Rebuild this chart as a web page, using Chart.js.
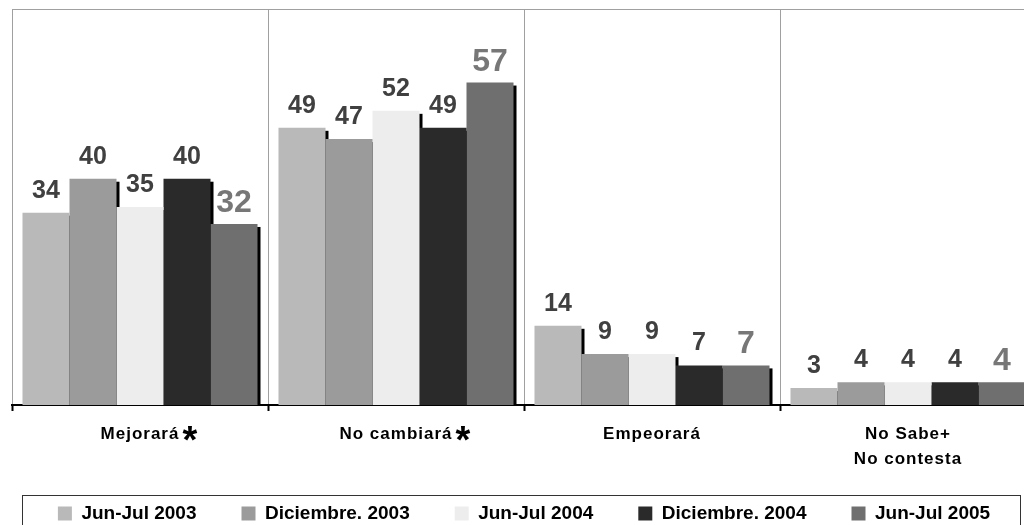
<!DOCTYPE HTML>
<html>
    <head>
        <meta charset="utf-8">
        <title>Expectativas</title>
        <script src="https://cdn.jsdelivr.net/npm/chart.js@4.4.1/dist/chart.umd.min.js"></script>
        <style>
            body { margin: 0; overflow: hidden; background: #ffffff; }
            #chart { display: block; }
        </style>
    </head>
    <body>
        <canvas id="chart" width="1040" height="525"></canvas>
        <script>
            const categories = ['Mejorará', 'No cambiará', 'Empeorará', ['No Sabe+', 'No contesta']];
            const categoryNotes = ['*', '*', '', ''];
            const seriesNames = ['Jun-Jul 2003', 'Diciembre. 2003', 'Jun-Jul 2004', 'Diciembre. 2004', 'Jun-Jul 2005'];
            const junJul2003 = [34, 49, 14, 3];
            const dic2003 = [40, 47, 9, 4];
            const junJul2004 = [35, 52, 9, 4];
            const dic2004 = [40, 49, 7, 4];
            const junJul2005 = [32, 57, 7, 4];
            const seriesColors = ['#b9b9b9', '#9b9b9b', '#ededed', '#2a2a2a', '#6f6f6f'];

            const fontFamily = "'Liberation Sans', Arial, sans-serif";
            const tickFont = { family: fontFamily, size: 17, weight: 'bold', lineHeight: 1.47 };
            const tickSpacing = '1px';

            // black drop shadow behind each bar, drawn before the bars
            const shadowPlugin = {
                id: 'barShadow',
                beforeDatasetsDraw(chart) {
                    const ctx = chart.ctx;
                    ctx.save();
                    ctx.fillStyle = '#000000';
                    chart.data.datasets.forEach((ds, i) => {
                        chart.getDatasetMeta(i).data.forEach(bar => {
                            const p = bar.getProps(['x', 'y', 'base', 'width'], true);
                            ctx.fillRect(p.x - p.width / 2 + 3, p.y + 3, p.width, p.base - p.y - 3);
                        });
                    });
                    ctx.restore();
                }
            };

            const valueLabelPlugin = {
                id: 'valueLabels',
                afterDatasetsDraw(chart) {
                    const ctx = chart.ctx;
                    const last = chart.data.datasets.length - 1;
                    ctx.save();
                    ctx.textAlign = 'center';
                    ctx.textBaseline = 'alphabetic';
                    chart.data.datasets.forEach((ds, i) => {
                        const big = i === last;
                        ctx.font = 'bold ' + (big ? 32 : 25) + 'px ' + fontFamily;
                        ctx.fillStyle = big ? '#777777' : '#404040';
                        chart.getDatasetMeta(i).data.forEach((bar, j) => {
                            ctx.fillText(String(ds.data[j]), bar.x, bar.y - (big ? 12 : 15));
                        });
                    });
                    ctx.restore();
                    // category labels (ticks.z = 1) are drawn right after this, a bit spaced out
                    ctx.letterSpacing = tickSpacing;
                }
            };

            const framePlugin = {
                id: 'frames',
                afterDraw(chart) {
                    const ctx = chart.ctx;
                    const area = chart.chartArea;
                    const xScale = chart.scales.x;

                    // big asterisks after the marked categories
                    ctx.save();
                    ctx.font = 'bold ' + tickFont.size + 'px ' + fontFamily;
                    const widths = categories.map(c => ctx.measureText(Array.isArray(c) ? c[0] : c).width);
                    ctx.letterSpacing = '0px';
                    ctx.font = 'bold 38px ' + fontFamily;
                    ctx.fillStyle = '#000000';
                    ctx.textAlign = 'left';
                    ctx.textBaseline = 'alphabetic';
                    categoryNotes.forEach((note, i) => {
                        if (note) {
                            ctx.fillText(note, xScale.getPixelForTick(i) + widths[i] / 2 + 3, 453);
                        }
                    });
                    ctx.restore();
                    ctx.letterSpacing = '0px';

                    ctx.save();
                    ctx.strokeStyle = '#a0a0a0';
                    ctx.lineWidth = 1;
                    ctx.beginPath();
                    ctx.moveTo(area.left, Math.round(area.top) + 0.5);
                    ctx.lineTo(area.right, Math.round(area.top) + 0.5);
                    ctx.stroke();

                    const legend = chart.legend;
                    const hb = legend.legendHitBoxes[0];
                    const top = Math.round(hb.top + hb.height / 2 - 19) + 0.5;
                    ctx.strokeStyle = '#333333';
                    ctx.strokeRect(legend.left + 10.5, top, legend.right - legend.left - 26, 60);
                    ctx.restore();
                }
            };

            const seriesData = [junJul2003, dic2003, junJul2004, dic2004, junJul2005];
            const datasets = seriesNames.map((name, i) => ({
                label: name,
                data: seriesData[i],
                backgroundColor: seriesColors[i],
                borderWidth: 0,
                barPercentage: 1,
                categoryPercentage: 0.918
            }));

            new Chart(document.getElementById('chart').getContext('2d'), {
                type: 'bar',
                data: { labels: categories, datasets: datasets },
                options: {
                    responsive: false,
                    animation: false,
                    layout: { padding: { left: 12, right: 4, top: 9, bottom: -8 } },
                    plugins: {
                        tooltip: { enabled: false },
                        legend: {
                            position: 'bottom',
                            labels: {
                                boxWidth: 14,
                                boxHeight: 14,
                                padding: 45,
                                color: '#000000',
                                font: { family: fontFamily, size: 19, weight: 'bold' }
                            }
                        }
                    },
                    scales: {
                        x: {
                            grid: {
                                offset: true,
                                color: '#a0a0a0',
                                lineWidth: 1,
                                drawTicks: true,
                                tickLength: 6,
                                tickColor: '#000000',
                                tickWidth: 2
                            },
                            border: { color: '#000000', width: 2 },
                            ticks: {
                                z: 1,
                                color: '#000000',
                                padding: 11,
                                maxRotation: 0,
                                autoSkip: false,
                                font: tickFont
                            },
                            afterFit(scale) {
                                scale.height = 54;
                                // let the two-line label run past the axis box
                                scale._computeLabelArea = () => null;
                            }
                        },
                        y: {
                            display: false,
                            min: 0,
                            max: 70
                        }
                    }
                },
                plugins: [shadowPlugin, valueLabelPlugin, framePlugin]
            });
        </script>
    </body>
</html>
